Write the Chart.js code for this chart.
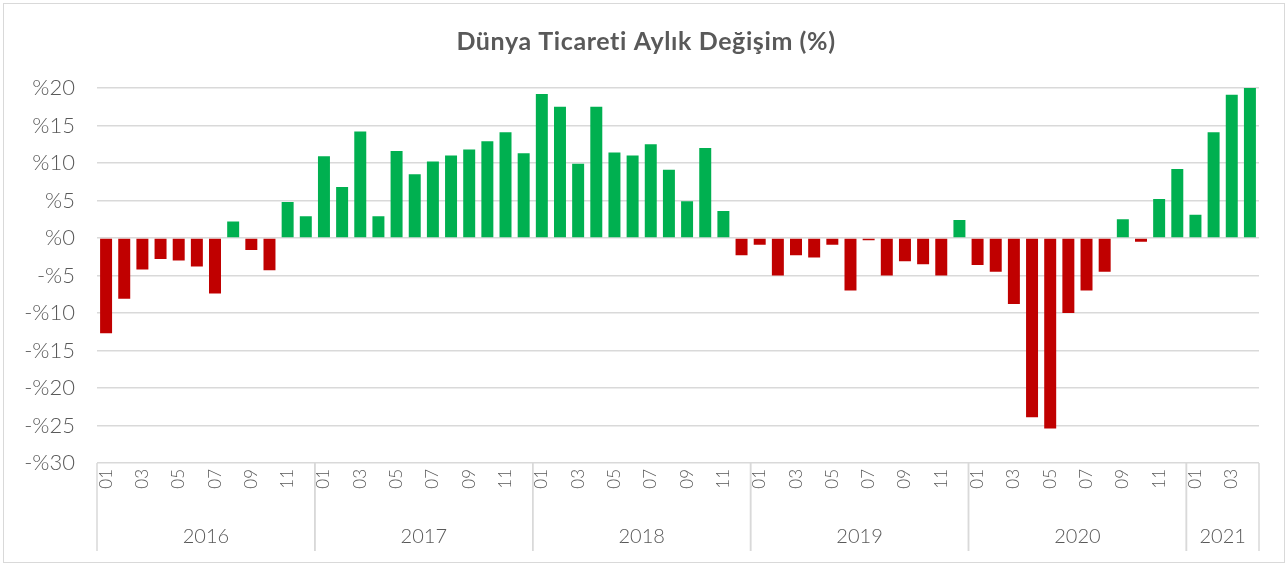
<!DOCTYPE html>
<html>
<head>
<meta charset="utf-8">
<script src="https://cdn.jsdelivr.net/npm/chart.js@4"></script>
<style>
  html, body { margin: 0; padding: 0; background: #fff; }
  #wrap { width: 1288px; height: 565px; }
</style>
</head>
<body>
<div id="wrap"><canvas id="chart" width="1288" height="565"></canvas></div>
<script>
const years = ['2016', '2017', '2018', '2019', '2020', '2021'];
const monthsInYear = [12, 12, 12, 12, 12, 4];
const monthNames = ['01', '02', '03', '04', '05', '06', '07', '08', '09', '10', '11', '12'];

const v2016 = [-12.7, -8.1, -4.2, -2.8, -3.0, -3.8, -7.4, 2.2, -1.6, -4.3, 4.8, 2.9];
const v2017 = [10.9, 6.8, 14.2, 2.9, 11.6, 8.5, 10.2, 11.0, 11.8, 12.9, 14.1, 11.3];
const v2018 = [19.2, 17.5, 9.9, 17.5, 11.4, 11.0, 12.5, 9.1, 4.9, 12.0, 3.6, -2.3];
const v2019 = [-0.9, -5.0, -2.3, -2.6, -0.9, -7.0, -0.3, -5.0, -3.1, -3.5, -5.0, 2.4];
const v2020 = [-3.6, -4.5, -8.8, -23.9, -25.4, -10.0, -7.0, -4.5, 2.5, -0.5, 5.2, 9.2];
const v2021 = [3.1, 14.1, 19.1, 20.0];

const yTicks = [20, 15, 10, 5, 0, -5, -10, -15, -20, -25, -30];

const values = [...v2016, ...v2017, ...v2018, ...v2019, ...v2020, ...v2021];
const labels = [];
monthsInYear.forEach(n => { for (let i = 0; i < n; i++) labels.push(monthNames[i]); });

const TITLE = 'Dünya Ticareti Aylık Değişim (%)';
const FONT = "Lato, 'Open Sans', sans-serif";
const GREY = '#595959';
const LINE = '#d9d9d9';

// title, year groups under the month labels, and the outer frame
const yearAxis = {
  id: 'yearAxis',
  afterDraw(chart) {
    const { ctx, chartArea, scales: { x } } = chart;
    const half = (x.getPixelForValue(1) - x.getPixelForValue(0)) / 2;
    const top = chartArea.bottom;
    const bottom = 551;
    ctx.save();
    ctx.fillStyle = GREY;
    ctx.textAlign = 'center';
    ctx.textBaseline = 'middle';
    ctx.font = 'bold 25px ' + FONT;
    ctx.letterSpacing = '0.6px';
    ctx.fillText(TITLE, 646, 42);
    ctx.letterSpacing = '0px';

    ctx.strokeStyle = LINE;
    ctx.lineWidth = 1.5;
    ctx.font = '300 20px ' + FONT;
    let start = 0;
    years.forEach((yr, i) => {
      const end = start + monthsInYear[i] - 1;
      const left = x.getPixelForValue(start) - half;
      const right = x.getPixelForValue(end) + half;
      ctx.beginPath();
      ctx.moveTo(left, top); ctx.lineTo(left, bottom);
      ctx.moveTo(right, top); ctx.lineTo(right, bottom);
      ctx.stroke();
      ctx.fillText(yr, (left + right) / 2, 537);
      start = end + 1;
    });
    ctx.lineWidth = 1;
    ctx.strokeRect(3.5, 3.5, 1281, 559);
    ctx.restore();
  }
};

new Chart(document.getElementById('chart'), {
  type: 'bar',
  data: {
    labels,
    datasets: [{
      data: values,
      backgroundColor: ctx => (ctx.raw < 0 ? '#C00000' : '#00B050'),
      barPercentage: 0.66,
      categoryPercentage: 1.0
    }]
  },
  options: {
    responsive: false,
    animation: false,
    layout: { padding: { left: 0, right: 29, top: 88, bottom: 0 } },
    plugins: {
      legend: { display: false },
      tooltip: { enabled: false },
      title: { display: false }
    },
    scales: {
      x: {
        grid: { display: false, drawTicks: false },
        border: { display: false },
        afterFit: s => { s.height = 102; },
        ticks: {
          autoSkip: false,
          minRotation: 90,
          maxRotation: 90,
          padding: 6,
          color: GREY,
          font: { family: FONT, size: 17, weight: '300' },
          callback: (v, i) => (i % 2 === 0 ? labels[i] : '')
        }
      },
      y: {
        min: -30,
        max: 20,
        afterFit: s => { s.width = 97; },
        afterBuildTicks: s => { s.ticks = yTicks.map(v => ({ value: v })); },
        grid: { color: LINE, lineWidth: 1.5, drawTicks: false },
        border: { display: false },
        ticks: {
          padding: 22,
          color: GREY,
          font: { family: FONT, size: 22, weight: '300' },
          callback: v => (v < 0 ? '-%' + (-v) : '%' + v)
        }
      }
    }
  },
  plugins: [yearAxis]
});
</script>
</body>
</html>
